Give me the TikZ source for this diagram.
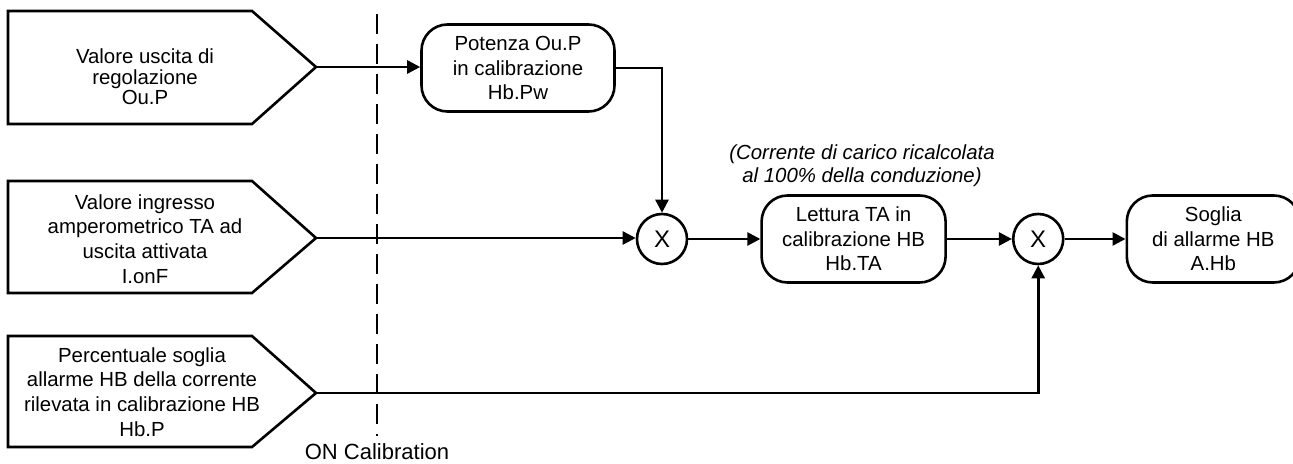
\documentclass[tikz,border=0pt]{standalone}
\usepackage{fontspec}
\setmainfont{Liberation Sans}
\usetikzlibrary{positioning,arrows.meta}
\tikzset{
  ingr/.style={align=center,inner sep=0pt,font=\fontsize{10.2}{12.3}\selectfont},
  blocco/.style={draw,rounded corners=13pt,align=center,inner sep=2pt,minimum height=43.5pt,font=\fontsize{10.2}{12.3}\selectfont},
  molt/.style={draw,circle,minimum size=25pt,inner sep=0pt,font=\fontsize{12}{13}\selectfont},
  bordo/.style={line join=miter},
  nota/.style={align=center,font=\fontsize{10.2}{11.5}\selectfont\itshape},
  cal/.style={dash pattern=on 10pt off 5pt},
}

\begin{document}
\begin{tikzpicture}[x=0.5pt,y=-0.5pt,>={Triangle[length=6.5pt,width=6.5pt]},line width=1.3pt,node distance=30pt]
  \useasboundingbox (0,0) rectangle (1293,464);
  % input values (pentagons)
  \draw[bordo] (8,11) -- (252,11) -- (316,67) coordinate (ouP) -- (252,124) -- (8,124) -- cycle;
  \node[ingr,font=\fontsize{10.2}{10.3}\selectfont] (ou) at (145,77) {Valore uscita di\\regolazione\\Ou.P};
  \draw[bordo] (8,181) -- (252,181) -- (316,238) coordinate (onfP) -- (252,293) -- (8,293) -- cycle;
  \node[ingr] (onf) at (145,239) {Valore ingresso\\amperometrico TA ad\\uscita attivata\\I.onF};
  \draw[bordo] (8,336) -- (252,336) -- (316,393) coordinate (hbpP) -- (252,447) -- (8,447) -- cycle;
  \node[ingr] (hbp) at (142,392) {Percentuale soglia\\allarme HB della corrente\\rilevata in calibrazione HB\\Hb.P};

  % calibration boundary
  \node[font=\fontsize{11}{12}\selectfont] (onc) at (377,452) {ON Calibration};
  \coordinate (calT) at (377,14);
  \draw[cal] (calT) -- (calT |- onc.north);

  % calibration chain
  \node[blocco,minimum width=96.5pt] (pot) at (518,68) {Potenza Ou.P\\in calibrazione\\Hb.Pw};
  \node[molt] (m1) at (662,239) {X};
  \node[blocco,minimum width=92pt,right=36pt of m1] (let) {Lettura TA in\\calibrazione HB\\Hb.TA};
  \node[molt,right=32.5pt of let] (m2) {X};
  \node[blocco,minimum width=86.5pt,right=30.5pt of m2] (sog) {Soglia\\di allarme HB\\A.Hb};
  \node[nota] (rical) at (862,166) {(Corrente di carico ricalcolata\\al 100\% della conduzione)};

  \draw[->] (ouP) -- (ouP -| pot.west);
  \draw[->] (pot.east) -| (m1.north);
  \draw[->] (onfP) -- (onfP -| m1.west);
  \draw[->] (m1) -- (let);
  \draw[->] (let) -- (m2);
  \draw[->] (m2) -- (sog);
  \draw[->] (hbpP) -| (m2.south);
\end{tikzpicture}
\end{document}
